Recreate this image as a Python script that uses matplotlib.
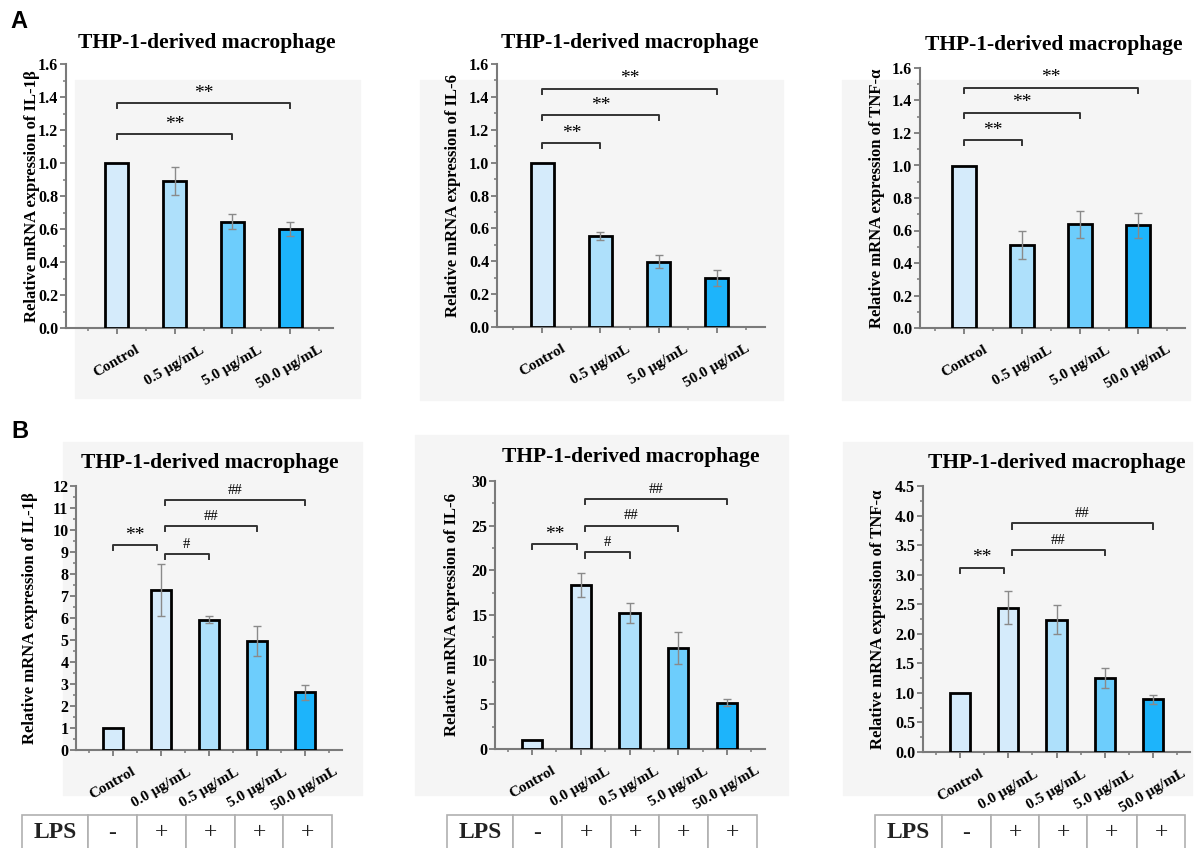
import matplotlib
matplotlib.use('Agg')
import matplotlib.pyplot as plt
from matplotlib.patches import Rectangle
from matplotlib.ticker import MultipleLocator

plt.rcParams['font.family'] = ['Liberation Serif', 'DejaVu Serif']

W, H = 1194, 848

# data
groups_a = ['Control', '0.5 μg/mL', '5.0 μg/mL', '50.0 μg/mL']
groups_b = ['Control', '0.0 μg/mL', '0.5 μg/mL', '5.0 μg/mL', '50.0 μg/mL']

il1b_a = [1.0, 0.89, 0.645, 0.60]
il1b_a_err = [0, 0.085, 0.045, 0.045]
il6_a = [1.0, 0.552, 0.397, 0.297]
il6_a_err = [0, 0.025, 0.04, 0.048]
tnf_a = [1.0, 0.51, 0.637, 0.632]
tnf_a_err = [0, 0.087, 0.083, 0.077]

il1b_b = [1.0, 7.28, 5.93, 4.95, 2.62]
il1b_b_err = [0, 1.17, 0.17, 0.67, 0.33]
il6_b = [1.0, 18.4, 15.2, 11.3, 5.2]
il6_b_err = [0, 1.35, 1.1, 1.8, 0.4]
tnf_b = [1.0, 2.44, 2.24, 1.25, 0.89]
tnf_b_err = [0, 0.28, 0.25, 0.17, 0.07]

lps_signs = ['-', '+', '+', '+', '+']

colors_a = ['#d5ebfb', '#aee0fb', '#6dcdfc', '#1db4fb']
colors_b = ['#d5ebfb', '#d5ebfb', '#aee0fb', '#6dcdfc', '#1db4fb']

sig_il1b_a = [(0, 2, 1.175, '**'), (0, 3, 1.365, '**')]
sig_il6_a = [(0, 1, 1.12, '**'), (0, 2, 1.29, '**'), (0, 3, 1.45, '**')]
sig_tnf_a = [(0, 1, 1.157, '**'), (0, 2, 1.325, '**'), (0, 3, 1.48, '**')]
sig_il1b_b = [(0, 1, 9.32, '**'), (1, 2, 8.9, '#'), (1, 3, 10.18, '##'), (1, 4, 11.36, '##')]
sig_il6_b = [(0, 1, 22.95, '**'), (1, 2, 22.0, '#'), (1, 3, 25.0, '##'), (1, 4, 28.0, '##')]
sig_tnf_b = [(0, 1, 3.12, '**'), (1, 3, 3.42, '##'), (1, 4, 3.87, '##')]

title = 'THP-1-derived macrophage'


def fx(px):
    return px / W


def fy(py):
    return 1 - py / H


fig = plt.figure(figsize=(W / 100, H / 100), dpi=100)

# light grey panel backgrounds (pixel boxes: x0, y0, x1, y1)
for x0, y0, x1, y1 in [(75, 80, 360, 398), (420, 80, 783, 400), (842, 80, 1190, 400),
                       (63, 442, 362, 795), (415, 435, 788, 795), (843, 442, 1192, 795)]:
    fig.patches.append(Rectangle((fx(x0), fy(y1)), fx(x1 - x0), (y1 - y0) / H,
                                 transform=fig.transFigure, color='#f5f5f5', zorder=-5))

panels = [
    dict(box=(66, 64, 333, 328), xlim=(-0.88, 3.74), ymax=1.6, major=0.2, minor=0.1,
         groups=groups_a, vals=il1b_a, errs=il1b_a_err, colors=colors_a, sig=sig_il1b_a,
         ylabel='Relative mRNA expression of IL-1β', tpos=(207, 43), ylx=32, fmt='%.1f'),
    dict(box=(497, 64, 765, 327), xlim=(-0.78, 3.83), ymax=1.6, major=0.2, minor=0.1,
         groups=groups_a, vals=il6_a, errs=il6_a_err, colors=colors_a, sig=sig_il6_a,
         ylabel='Relative mRNA expression of IL-6', tpos=(630, 43), ylx=453, fmt='%.1f'),
    dict(box=(920, 68, 1185, 328), xlim=(-0.76, 3.81), ymax=1.6, major=0.2, minor=0.1,
         groups=groups_a, vals=tnf_a, errs=tnf_a_err, colors=colors_a, sig=sig_tnf_a,
         ylabel='Relative mRNA expression of TNF-α', tpos=(1054, 45), ylx=877, fmt='%.1f'),
    dict(box=(76, 486, 342, 750), xlim=(-0.77, 4.77), ymax=12, major=1, minor=0.5,
         groups=groups_b, vals=il1b_b, errs=il1b_b_err, colors=colors_b, sig=sig_il1b_b,
         ylabel='Relative mRNA expression of IL-1β', tpos=(210, 463), ylx=30, fmt='%d',
         table=[22, 88, 137, 186, 235, 283, 332]),
    dict(box=(495, 481, 765, 749), xlim=(-0.76, 4.78), ymax=30, major=5, minor=2.5,
         groups=groups_b, vals=il6_b, errs=il6_b_err, colors=colors_b, sig=sig_il6_b,
         ylabel='Relative mRNA expression of IL-6', tpos=(631, 457), ylx=452, fmt='%d',
         table=[447, 513, 562, 611, 659, 708, 757]),
    dict(box=(923, 486, 1190, 752), xlim=(-0.77, 4.77), ymax=4.5, major=0.5, minor=0.25,
         groups=groups_b, vals=tnf_b, errs=tnf_b_err, colors=colors_b, sig=sig_tnf_b,
         ylabel='Relative mRNA expression of TNF-α', tpos=(1057, 463), ylx=878, fmt='%.1f',
         table=[875, 942, 991, 1039, 1087, 1137, 1185]),
]

spine_c = '#7a7a7a'

for p in panels:
    l, t, r, b = p['box']
    ax = fig.add_axes([fx(l), fy(b), fx(r - l), (b - t) / H])
    ax.set_facecolor('none')
    n = len(p['groups'])
    xs = list(range(n))
    width = 0.4 if n == 4 else 0.42
    ax.bar(xs, p['vals'], width=width, color=p['colors'], edgecolor='black', linewidth=2, zorder=3)
    # error bars only where an error was measured
    ex = [x for x, e in zip(xs, p['errs']) if e > 0]
    ey = [v for v, e in zip(p['vals'], p['errs']) if e > 0]
    ee = [e for e in p['errs'] if e > 0]
    ax.errorbar(ex, ey, yerr=ee, fmt='none', ecolor='#8a8a8a', elinewidth=1,
                capsize=3, capthick=1, zorder=4)
    ax.set_xlim(*p['xlim'])
    ax.set_ylim(0, p['ymax'])
    for s in ['top', 'right']:
        ax.spines[s].set_visible(False)
    for s in ['left', 'bottom']:
        ax.spines[s].set_color(spine_c)
        ax.spines[s].set_linewidth(1.5)
    ax.set_xticks(xs)
    ax.set_xticks([x - 0.5 for x in xs] + [n - 0.5], minor=True)
    ax.set_xticklabels(p['groups'], rotation=30, ha='center', fontsize=11, fontweight='bold')
    ax.yaxis.set_major_locator(MultipleLocator(p['major']))
    ax.yaxis.set_minor_locator(MultipleLocator(p['minor']))
    ax.yaxis.set_major_formatter(plt.FormatStrFormatter(p['fmt']))
    for lab in ax.get_yticklabels():
        lab.set_fontweight('bold')
        lab.set_fontsize(11.5)
    ax.tick_params(which='major', direction='out', length=4, width=1.3, color=spine_c)
    ax.tick_params(which='minor', direction='out', length=2.5, width=1.1, color=spine_c)
    ax.tick_params(axis='x', which='major', pad=7)
    ax.tick_params(axis='y', which='major', pad=1.5)
    ax.set_ylabel(p['ylabel'], fontsize=12, fontweight='bold', ha='center', va='center')
    ax.yaxis.set_label_coords((p['ylx'] - l) / (r - l), 0.5)

    fig.text(fx(p['tpos'][0]), fy(p['tpos'][1]), title, ha='center', va='center',
             fontsize=15.5, fontweight='bold')

    leg = p['ymax'] * 0.02
    for i, j, y, lab in p['sig']:
        x1 = i + 0.08 if (n == 5 and i == 1) else i
        x2 = j - 0.08 if (n == 5 and j == 1) else j
        ax.plot([x1, x1, x2, x2], [y - leg, y, y, y - leg], color='#333333', lw=1.4,
                clip_on=False, zorder=5)
        fs = 14 if lab == '**' else 10.5
        ax.annotate(lab, xy=((x1 + x2) / 2, y), xytext=(0, 7), textcoords='offset points',
                    ha='center', va='center', fontsize=fs)

    if 'table' in p:
        edges = p['table']
        top = 815
        for k in range(len(edges) - 1):
            fig.patches.append(Rectangle((fx(edges[k]), fy(870)), fx(edges[k + 1] - edges[k]),
                                         (870 - top) / H, transform=fig.transFigure,
                                         facecolor='white', edgecolor='#b0b0b0', lw=1.2, zorder=1))
        fig.text(fx((edges[0] + edges[1]) / 2), fy(833), 'LPS', ha='center', va='center',
                 fontsize=17, fontweight='bold', color='#222222')
        for k, sgn in enumerate(lps_signs):
            fig.text(fx((edges[k + 1] + edges[k + 2]) / 2), fy(833), sgn, ha='center',
                     va='center', fontsize=17, color='#222222')

fig.text(fx(19), fy(21), 'A', ha='center', va='center', fontsize=17, fontweight='bold',
         family='Liberation Sans')
fig.text(fx(20), fy(432), 'B', ha='center', va='center', fontsize=17, fontweight='bold',
         family='Liberation Sans')

fig.savefig('out.png', dpi=100)
